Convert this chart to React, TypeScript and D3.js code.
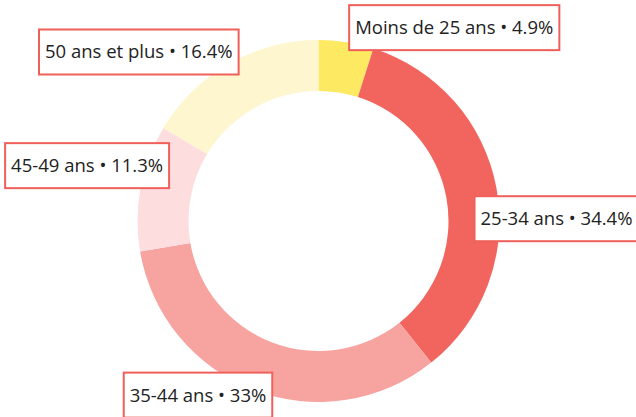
import React, { useEffect, useRef } from "react";
import * as d3 from "d3";

const categories = ["Moins de 25 ans", "25-34 ans", "35-44 ans", "45-49 ans", "50 ans et plus"];
const values = [4.9, 34.4, 33, 11.3, 16.4];
const valueLabels = ["4.9%", "34.4%", "33%", "11.3%", "16.4%"];
const colors = ["#FDE962", "#F2655F", "#F7A4A0", "#FEDDDF", "#FDF6CE"];
// label offsets (layout) from the outer arc point at the slice mid-angle
const labelOffsets: [number, number][] = [[108, -14.5], [60, 30.5], [-56, 5], [-53.5, -22], [-90.5, -11.5]];

const W = 636, H = 417;
const CX = 318.5, CY = 221, R = 181, RI = 130;

export default function App() {
  const ref = useRef<SVGSVGElement>(null);
  useEffect(() => {
    const svg = d3.select(ref.current);
    svg.selectAll("*").remove();
    const pie = d3.pie<number>().sort(null).value((d) => d);
    const arcs = pie(values);
    const arc = d3.arc<d3.PieArcDatum<number>>().innerRadius(RI).outerRadius(R);
    const g = svg.append("g").attr("transform", `translate(${CX},${CY})`);
    g.selectAll("path").data(arcs).enter().append("path")
      .attr("d", arc as any).attr("fill", (_, i) => colors[i]);

    const lg = svg.append("g");
    arcs.forEach((a, i) => {
      const mid = (a.startAngle + a.endAngle) / 2;
      const px = CX + R * Math.sin(mid);
      const py = CY - R * Math.cos(mid);
      const cx = px + labelOffsets[i][0];
      const cy = py + labelOffsets[i][1];
      const grp = lg.append("g");
      const rect = grp.append("rect");
      const t = grp.append("text")
        .attr("x", cx).attr("y", cy).attr("dy", "0.35em")
        .attr("text-anchor", "middle")
        .style("font-family", "'Open Sans', sans-serif")
        .style("font-size", "18.5px")
        .attr("fill", "#222")
        .text(`${categories[i]} • ${valueLabels[i]}`);
      const tw = (t.node() as SVGTextElement).getComputedTextLength();
      const bw = tw + 12, bh = 45;
      rect.attr("x", cx - bw / 2).attr("y", cy - bh / 2).attr("width", bw).attr("height", bh)
        .attr("fill", "#fff").attr("stroke", "#F0605A").attr("stroke-width", 2);
    });
  }, []);
  return (
    <svg ref={ref} width={W} height={H} style={{ position: "absolute", left: 0, top: 0 }} />
  );
}
